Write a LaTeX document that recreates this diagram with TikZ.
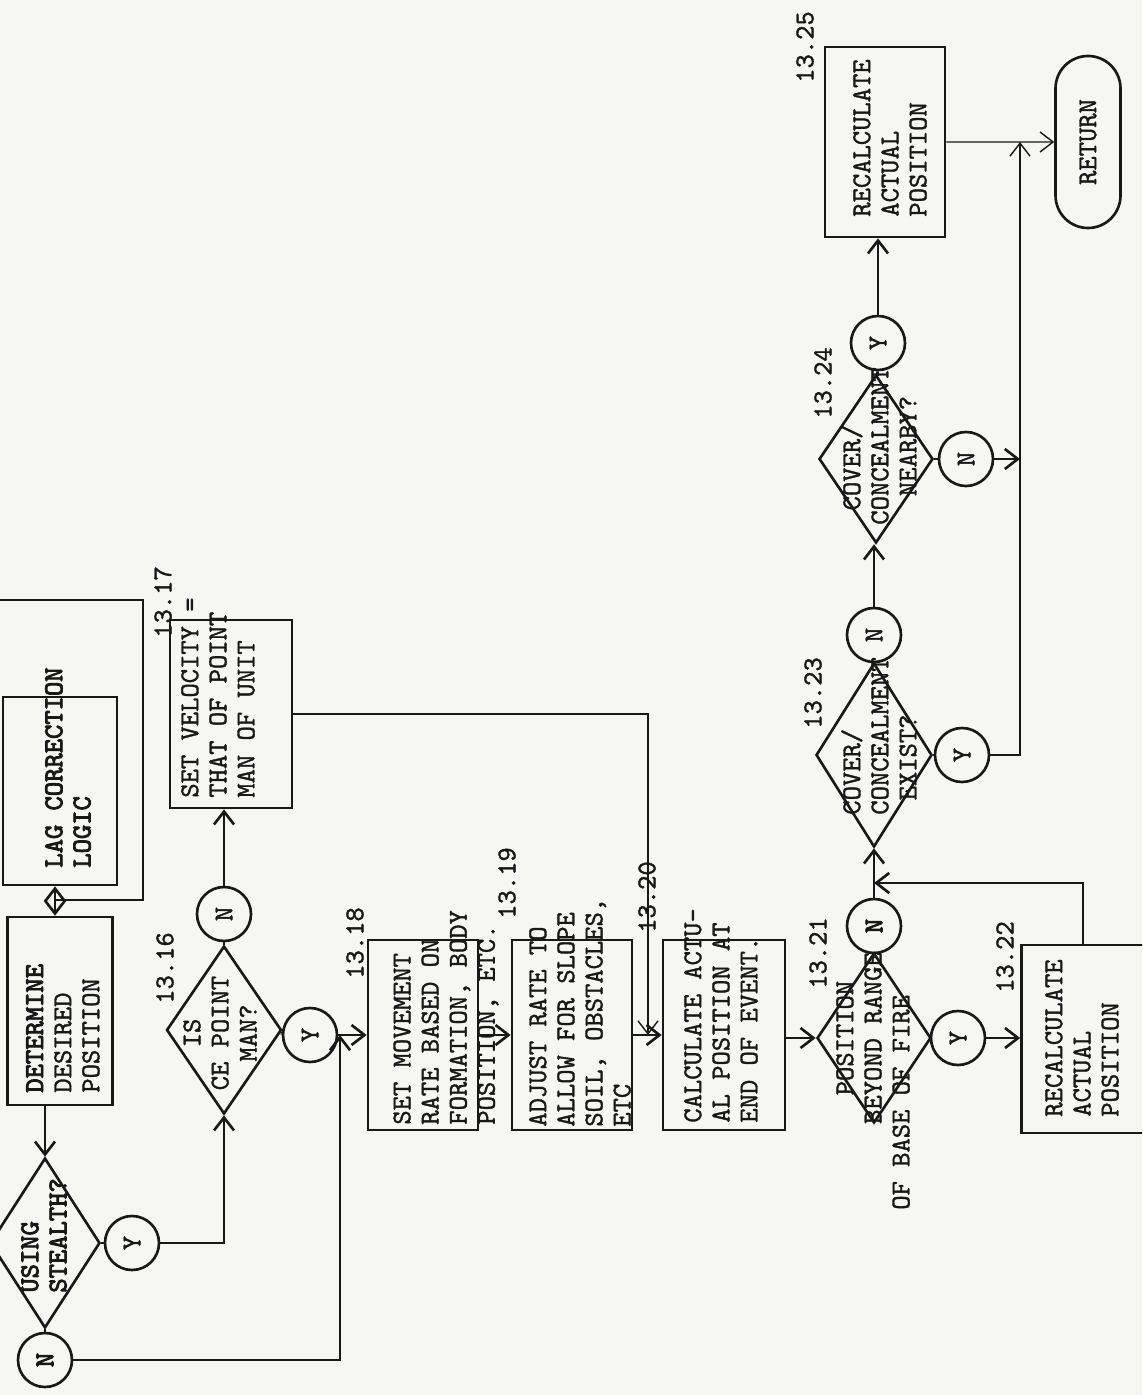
\documentclass[tikz,border=0pt]{standalone}
\usepackage{fontspec}
\usetikzlibrary{arrows.meta,shapes.geometric,shapes.misc}
\newfontfamily\typew{lmmono10-regular.otf}[RawFeature={embolden=1.3}]
\newfontfamily\typewb{lmmono10-regular.otf}[RawFeature={embolden=3.2}]
\newcommand{\flowfont}{\typew\fontsize{15.5}{16}\selectfont}
\newcommand{\flowbold}{\typewb\fontsize{15.5}{16}\selectfont}
\definecolor{paper}{RGB}{246,246,243}
\definecolor{ink}{RGB}{24,24,24}

\begin{document}
\begin{tikzpicture}[x=0.2mm,y=-0.2mm]
\tikzset{
  boxf/.style 2 args={draw=ink,line width=1.5pt,rotate=90,minimum width=#1,minimum height=#2,inner sep=0pt},
  decis/.style 2 args={diamond,draw=ink,line width=1.5pt,rotate=90,minimum width=#1,minimum height=#2,inner sep=0pt},
  yn/.style={circle,draw=ink,line width=1.5pt,minimum size=10.8mm,inner sep=0pt,rotate=90,font=\flowfont,text=ink},
  txt/.style={rotate=90,align=left,font=\flowfont,text=ink,inner sep=0pt},
  num/.style={rotate=90,font=\flowfont,text=ink,inner sep=0pt},
  conn/.style={draw=ink,line width=1.5pt},
  flow/.style={conn,-{Straight Barb[length=2.6mm,width=4mm]}},
  thinflow/.style={flow,line width=0.8pt},
}
\useasboundingbox (0,0) rectangle (1142,1395);
\fill[paper] (0,0) rectangle (1142,1395);
\clip (0,0) rectangle (1142,1395);

% lag correction and stealth test
\node[boxf={37.6mm}{22.8mm}] (lag) at (60,791) {};
\node[txt,anchor=west,font=\flowbold] (lag-t) at (68,868) {LAG CORRECTION\\LOGIC};
\node[boxf={37.6mm}{21mm}] (det) at (60,1011) {};
\node[txt,anchor=west] (det-t) at (63,1093) {{\flowbold DETERMINE}\\DESIRED\\POSITION};
\node[decis={34mm}{22mm}] (stealth) at (45,1243) {};
\node[txt,anchor=west,font=\flowbold] (stealth-t) at (44,1293) {USING\\STEALTH?};
\node[yn,font=\flowbold] (stno) at (45,1360) {N};
\node[yn] (styes) at (132,1243) {Y};

% point man test
\node[decis={33.6mm}{23mm}] (pm) at (224,1030) {};
\node[txt,align=center] (pm-t) at (220,1033) {IS\\CE POINT\\MAN?};
\node[num] (l1316) at (165,968) {13.16};
\node[yn] (pmno) at (224,914) {N};
\node[yn] (pmyes) at (310,1035) {Y};
\node[boxf={37.6mm}{24.4mm}] (setvel) at (231,714) {};
\node[txt,anchor=west] (setvel-t) at (218,798) {SET VELOCITY =\\THAT OF POINT\\MAN OF UNIT};
\node[num] (l1317) at (163,602) {13.17};

% movement rate
\node[boxf={38mm}{22mm}] (setmove) at (423,1035) {};
\node[txt,anchor=west] (setmove-t) at (446,1125) {SET MOVEMENT\\RATE BASED ON\\FORMATION, BODY\\POSITION, ETC.};
\node[num] (l1318) at (355,943) {13.18};
\node[boxf={38mm}{24mm}] (adjust) at (572,1035) {};
\node[txt,anchor=west] (adjust-t) at (580,1127) {ADJUST RATE TO\\ALLOW FOR SLOPE\\SOIL, OBSTACLES,\\ETC};
\node[num] (l1319) at (507,883) {13.19};
\node[boxf={38mm}{24.4mm}] (calc) at (724,1035) {};
\node[txt,anchor=west] (calc-t) at (721,1123) {CALCULATE ACTU-\\AL POSITION AT\\END OF EVENT.};
\node[num] (l1320) at (647,897) {13.20};

% range of base of fire
\node[decis={34mm}{22.8mm}] (pos) at (874,1038) {};
\node[txt,anchor=west] (pos-t) at (873,1210) {\hphantom{OF BASE }POSITION\\\hphantom{OF BAS}BEYOND RANGE\\OF BASE OF FIRE};
\node[num] (l1321) at (818,953) {13.21};
\node[yn,font=\flowbold] (posno) at (874,926) {N};
\node[yn] (posyes) at (958,1038) {Y};
\node[boxf={37.6mm}{24.6mm}] (recalc1) at (1083,1039) {};
\node[txt,anchor=west] (recalc1-t) at (1082,1117) {RECALCULATE\\ACTUAL\\POSITION};
\node[num] (l1322) at (1005,957) {13.22};

% cover and concealment
\node[decis={36.8mm}{23.2mm}] (cov1) at (874,755) {};
\node[txt,anchor=west] (cov1-t) at (879,815) {COVER/\\CONCEALMENT\\\hphantom{C}EXIST?};
\node[num] (l1323) at (813,693) {13.23};
\node[yn] (c1no) at (874,635) {N};
\node[yn] (c1yes) at (962,755) {Y};
\node[decis={33.6mm}{22.8mm}] (cov2) at (876,459) {};
\node[txt,anchor=west] (cov2-t) at (879,525) {\hphantom{C}COVER/\\CONCEALMENT\\\hphantom{CC}NEARBY?};
\node[num] (l1324) at (823,383) {13.24};
\node[yn] (c2no) at (966,459) {N};
\node[yn] (c2yes) at (878,343) {Y};
\node[boxf={38mm}{24mm}] (recalc2) at (885,142) {};
\node[txt,anchor=west] (recalc2-t) at (890,217) {RECALCULATE\\ACTUAL\\POSITION};
\node[num] (l1325) at (805,47) {13.25};
\node[rounded rectangle,draw=ink,line width=1.5pt,rotate=90,minimum width=34.4mm,minimum height=13mm,inner sep=0pt,font=\flowfont,text=ink] (ret) at (1088,142) {RETURN};

\coordinate (loopin) at (-10,600);
\coordinate (loopc) at (143,900);
\coordinate (lagin) at (55,900);
\coordinate (j18) at (340,1035);
\coordinate (j20) at (648,1035);
\coordinate (j21) at (874,883);
\coordinate (j24) at (1020,459);
\coordinate (jret) at (1020,142);

\draw[conn] (loopin) -| (loopc) -- (lagin);
\draw[flow] (lagin) -- (lagin |- det.east);
\draw[flow] (lagin) -- (lagin |- lag.west);
\draw[flow] (stealth.east |- det.west) -- (stealth.east);
\draw[conn] (stealth) -- (styes);
\draw[flow] (styes) -| (pm);
\draw[conn] (stealth) -- (stno);
\draw[flow] (stno) -| (j18);
\draw[conn] (pm) -- (pmyes);
\draw[flow] (pmyes) -- (setmove);
\draw[conn] (pm) -- (pmno);
\draw[flow] (pmno) -- (pmno |- setvel.west);
\draw[thinflow] (setvel.south) -| (j20);
\draw[flow] (setmove) -- (adjust);
\draw[flow] (adjust) -- (calc);
\draw[flow] (calc.south |- pos) -- (pos);
\draw[conn] (pos) -- (posno);
\draw[flow] (posno) -- (cov1);
\draw[conn] (pos) -- (posyes);
\draw[flow] (posyes) -- (posyes -| recalc1.north);
\draw[flow] (recalc1) |- (j21);
\draw[conn] (cov1) -- (c1no);
\draw[flow] (c1no) -- (c1no |- cov2.west);
\draw[conn] (cov1) -- (c1yes);
\draw[thinflow] (c1yes) -| (jret);
\draw[conn] (cov2) -- (c2no);
\draw[flow] (c2no) -- (j24);
\draw[conn] (cov2) -- (c2yes);
\draw[flow] (c2yes) -- (c2yes |- recalc2.west);
\draw[thinflow] (recalc2) -- (ret);
\end{tikzpicture}
\end{document}
